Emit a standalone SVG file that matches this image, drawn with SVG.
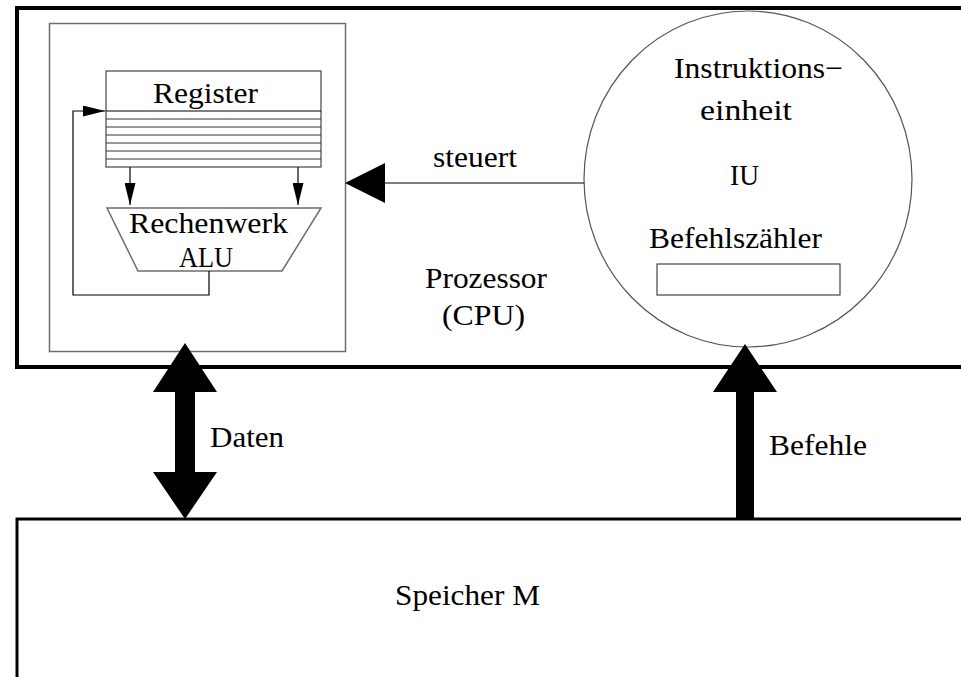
<svg xmlns="http://www.w3.org/2000/svg" width="961" height="677" viewBox="0 0 961 677">
<style>
text{font-family:"Liberation Serif","Times New Roman",serif;fill:#000;font-size:30px}
.thick{fill:none;stroke:#000;stroke-width:4}
.gray{fill:none;stroke:#6e6e6e;stroke-width:1.5}
.reg{stroke:#333;stroke-width:1.2}
.thin{fill:none;stroke:#000;stroke-width:1.2}
.blk{fill:#000;stroke:none}
</style>
<defs>
<marker id="ah" viewBox="0 0 22 11" refX="22" refY="5.5" markerWidth="22" markerHeight="11" markerUnits="userSpaceOnUse" orient="auto">
<path d="M0,0 L22,5.5 L0,11 z" fill="#000"/>
</marker>
</defs>
<rect width="961" height="677" fill="#fff"/>
<g id="processor">
<rect class="thick" x="17" y="8" width="960" height="359"/>
<text x="425" y="288" textLength="122" lengthAdjust="spacingAndGlyphs">Prozessor</text>
<text x="442" y="325" textLength="83" lengthAdjust="spacingAndGlyphs">(CPU)</text>
</g>
<g id="memory">
<rect class="thick" x="17" y="519" width="960" height="200" style="stroke-width:3"/>
<text x="395" y="605" font-size="29" textLength="145" lengthAdjust="spacingAndGlyphs">Speicher M</text>
</g>
<g id="exec-unit">
<rect class="gray" x="49.5" y="23.5" width="296" height="328"/>
</g>
<g id="register">
<rect x="106" y="71" width="215" height="96" fill="#fff" stroke="#444" stroke-width="1.2"/>
<g class="reg">
<line x1="106" y1="111" x2="321" y2="111" stroke="#000"/>
<line x1="106" y1="119" x2="321" y2="119"/>
<line x1="106" y1="127" x2="321" y2="127"/>
<line x1="106" y1="135" x2="321" y2="135"/>
<line x1="106" y1="143" x2="321" y2="143"/>
<line x1="106" y1="151" x2="321" y2="151"/>
<line x1="106" y1="159" x2="321" y2="159"/>
</g>
<text x="153" y="103" font-size="23" textLength="105" lengthAdjust="spacingAndGlyphs">Register</text>
</g>
<g id="alu">
<polygon points="107,208 321,208 282,271 138,271" fill="#fff" stroke="#6e6e6e" stroke-width="1.5"/>
<text x="129" y="233" font-size="22" textLength="159" lengthAdjust="spacingAndGlyphs">Rechenwerk</text>
<text x="179" y="267" font-size="22" textLength="54" lengthAdjust="spacingAndGlyphs">ALU</text>
</g>
<g id="iu">
<ellipse cx="748" cy="179" rx="164" ry="168" fill="none" stroke="#555" stroke-width="1.2"/>
<text x="674" y="78" textLength="169" lengthAdjust="spacingAndGlyphs">Instruktions−</text>
<text x="700" y="120" textLength="92" lengthAdjust="spacingAndGlyphs">einheit</text>
<text x="730" y="185" textLength="29" lengthAdjust="spacingAndGlyphs">IU</text>
<text x="649" y="248" textLength="173" lengthAdjust="spacingAndGlyphs">Befehlszähler</text>
</g>
<g id="pc">
<rect x="657" y="264" width="183" height="31" fill="#fff" stroke="#444" stroke-width="1.2"/>
</g>
<g id="connectors">
<line class="thin" x1="130" y1="167" x2="130" y2="205" marker-end="url(#ah)"/>
<line class="thin" x1="298" y1="167" x2="298" y2="205" marker-end="url(#ah)"/>
<path class="thin" d="M209,271 V295 H73 V111 H105" marker-end="url(#ah)"/>
<line class="thin" x1="584" y1="183" x2="384" y2="183"/>
<polygon class="blk" points="345,183 385,163 385,203"/>
<text x="433" y="167" textLength="84" lengthAdjust="spacingAndGlyphs">steuert</text>
<polygon class="blk" points="185,343 217,392 195,392 195,472 217,472 185,519 153,472 175,472 175,392 153,392"/>
<text x="210" y="447" textLength="74" lengthAdjust="spacingAndGlyphs">Daten</text>
<polygon class="blk" points="745,344 777,392 754,392 754,520 736,520 736,392 713,392"/>
<text x="769" y="455" textLength="98" lengthAdjust="spacingAndGlyphs">Befehle</text>
</g>
</svg>
